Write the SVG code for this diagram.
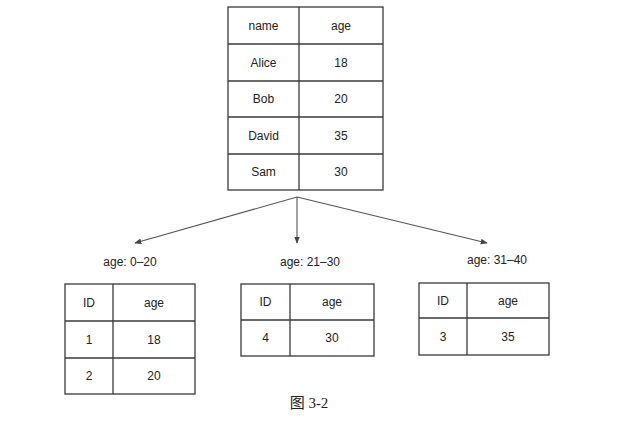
<svg xmlns="http://www.w3.org/2000/svg" width="623" height="438" viewBox="0 0 623 438">
<style>
.cell{fill:#fff;stroke:#3a3a3a;stroke-width:1.3}
.ln{stroke:#3a3a3a;stroke-width:1.3}
.t{font-family:"Liberation Sans",Arial,sans-serif;font-size:12px;fill:#222;text-anchor:middle}
.conn{stroke:#555;stroke-width:1.1;fill:none}
.cap{font-family:"Liberation Serif","Noto Sans CJK SC",serif;font-size:15px;fill:#222;text-anchor:middle}
</style>
<defs>
<marker id="ah" viewBox="0 0 10 10" refX="9" refY="5" markerWidth="7" markerHeight="7" orient="auto" markerUnits="userSpaceOnUse">
<path d="M0,1 L10,5 L0,9 z" fill="#444"/>
</marker>
</defs>
<rect width="623" height="438" fill="#fff"/>
<g id="source-table">
<rect class="cell" x="228" y="7" width="155" height="183"/>
<line class="ln" x1="299" y1="7" x2="299" y2="190"/>
<line class="ln" x1="228" y1="44" x2="383" y2="44"/>
<line class="ln" x1="228" y1="81" x2="383" y2="81"/>
<line class="ln" x1="228" y1="117" x2="383" y2="117"/>
<line class="ln" x1="228" y1="154" x2="383" y2="154"/>
<text class="t" x="263.5" y="30">name</text><text class="t" x="341" y="30">age</text>
<text class="t" x="263.5" y="67">Alice</text><text class="t" x="341" y="67">18</text>
<text class="t" x="263.5" y="103">Bob</text><text class="t" x="341" y="103">20</text>
<text class="t" x="263.5" y="140">David</text><text class="t" x="341" y="140">35</text>
<text class="t" x="263.5" y="176">Sam</text><text class="t" x="341" y="176">30</text>
</g>
<g id="connectors">
<line class="conn" x1="297" y1="197" x2="135" y2="243" marker-end="url(#ah)"/>
<line class="conn" x1="297" y1="197" x2="297" y2="243" marker-end="url(#ah)"/>
<line class="conn" x1="297" y1="197" x2="487" y2="243" marker-end="url(#ah)"/>
</g>
<g id="partition-1">
<text class="t" x="130" y="266">age: 0–20</text>
<rect class="cell" x="65" y="284" width="130" height="110"/>
<line class="ln" x1="113" y1="284" x2="113" y2="394"/>
<line class="ln" x1="65" y1="321" x2="195" y2="321"/>
<line class="ln" x1="65" y1="358" x2="195" y2="358"/>
<text class="t" x="89" y="307">ID</text><text class="t" x="154" y="307">age</text>
<text class="t" x="89" y="344">1</text><text class="t" x="154" y="344">18</text>
<text class="t" x="89" y="380">2</text><text class="t" x="154" y="380">20</text>
</g>
<g id="partition-2">
<text class="t" x="310" y="266">age: 21–30</text>
<rect class="cell" x="241" y="284" width="133" height="72"/>
<line class="ln" x1="290" y1="284" x2="290" y2="356"/>
<line class="ln" x1="241" y1="320" x2="374" y2="320"/>
<text class="t" x="265.5" y="306">ID</text><text class="t" x="332" y="306">age</text>
<text class="t" x="265.5" y="342">4</text><text class="t" x="332" y="342">30</text>
</g>
<g id="partition-3">
<text class="t" x="497" y="264">age: 31–40</text>
<rect class="cell" x="419" y="283" width="130" height="72"/>
<line class="ln" x1="467" y1="283" x2="467" y2="355"/>
<line class="ln" x1="419" y1="318" x2="549" y2="318"/>
<text class="t" x="443" y="305">ID</text><text class="t" x="508" y="305">age</text>
<text class="t" x="443" y="341">3</text><text class="t" x="508" y="341">35</text>
</g>
<text class="cap" x="309" y="408">图 3-2</text>
</svg>
